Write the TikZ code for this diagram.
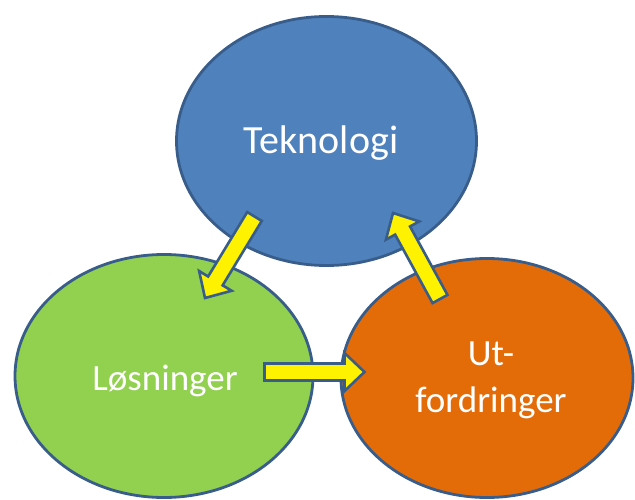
\documentclass[tikz,border=0pt]{standalone}
\usepackage{fontspec}
\setmainfont{Carlito}
\usetikzlibrary{shapes.geometric,calc}
\definecolor{rim}{RGB}{56,93,138}
\definecolor{tekblue}{RGB}{79,129,189}
\definecolor{losgreen}{RGB}{146,208,80}
\definecolor{utorange}{RGB}{227,108,9}

\begin{document}
\begin{tikzpicture}[x=1pt,y=-1pt,
    blob/.style={ellipse,draw=rim,line width=2.8pt,inner sep=0pt},
    lbl/.style={text=white,font=\fontsize{37}{47}\selectfont,anchor=base},
    yarrow/.style={draw=rim,fill=yellow,line width=2.6pt,line join=miter}]
            \useasboundingbox (0,0) rectangle (635,500);
            \node[blob,fill=losgreen,minimum width=298pt,minimum height=243pt] (los) at (164,376) {};
            \node[blob,fill=utorange,minimum width=292pt,minimum height=239pt] (utf) at (487,378) {};
            \node[blob,fill=tekblue,minimum width=300pt,minimum height=249pt] (tek) at (326.5,141) {};
            \node[lbl,font=\fontsize{40}{48}\selectfont] (teklbl) at (321,154) {Teknologi};
            \node[lbl] (loslbl) at (165,390) {Løsninger};
            \node[lbl,align=center] (utflbl) at (491,412) {Ut-\\fordringer};
            \coordinate (a1) at (254.5,216.5); \coordinate (b1) at (205,298);
            \coordinate (a2) at (440,299);     \coordinate (b2) at (393,213);
            \coordinate (a3) at (264.5,372);   \coordinate (b3) at (364.5,372);
            \foreach \s/\e in {a1/b1,a2/b2,a3/b3}{
              \coordinate (hb) at ($(\e)!20pt!(\s)$);
              \draw[yarrow] ($(\s)!8.5pt!90:(\e)$) -- ($(hb)!8.5pt!90:(\e)$) -- ($(hb)!19pt!90:(\e)$) -- (\e)
                -- ($(hb)!19pt!-90:(\e)$) -- ($(hb)!8.5pt!-90:(\e)$) -- ($(\s)!8.5pt!-90:(\e)$) -- cycle;
            }
          \end{tikzpicture}
\end{document}
